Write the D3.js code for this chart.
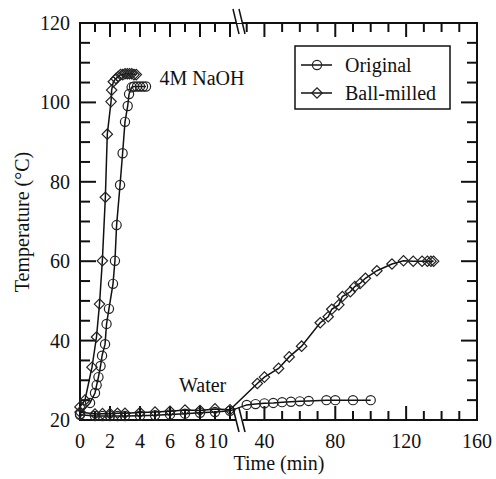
<!DOCTYPE html>
<html><head><meta charset="utf-8">
<script src="https://cdn.jsdelivr.net/npm/d3@7"></script>
<style>body{margin:0;background:#fff}svg{display:block}text{font-family:"Liberation Serif","Times New Roman",serif;fill:#111}</style>
</head><body>
<svg id="chart" width="496" height="479"></svg>
<script>
// ---- data ----
const naohOrigTime = [0, 0.67, 1.0, 1.11, 1.23, 1.37, 1.47, 1.67, 1.77, 1.93, 2.2, 2.33, 2.44, 2.67, 2.84, 3.0, 3.18, 3.27, 3.44, 3.6, 3.8, 4.0, 4.2, 4.4];
const naohOrigTemp = [21.5, 24.3, 26.8, 28.8, 30.8, 33.6, 36.2, 39.1, 44.2, 48, 54.3, 60.1, 69.1, 79.2, 87.2, 95.1, 99.1, 102.1, 103.8, 104, 104, 104, 104, 104];
const naohBallTime = [0, 0.33, 0.8, 1.1, 1.3, 1.49, 1.69, 1.82, 2.07, 2.11, 2.22, 2.4, 2.55, 2.7, 2.85, 3.0, 3.15, 3.3, 3.45, 3.6, 3.75];
const naohBallTemp = [23.3, 25, 33.3, 40.9, 49.2, 60.1, 76.1, 92, 100.2, 103.1, 105.2, 106, 106.5, 107, 107, 107.2, 107.2, 107.2, 107.2, 107, 107];
const waterOrigTime = [0, 1, 1.5, 2, 2.5, 3, 4, 5, 6, 7, 8, 9, 10, 30, 35, 40, 45, 50, 55, 60, 65, 75, 80, 90, 100];
const waterOrigTemp = [21.3, 21, 21, 21, 21, 21, 21.1, 21.2, 21.4, 21.6, 21.8, 22, 22.3, 23.8, 24, 24.2, 24.3, 24.5, 24.6, 24.7, 24.8, 25, 25, 25, 25];
const waterBallTime = [0, 1, 1.5, 2, 2.5, 3, 4, 5, 6, 7, 8, 9, 10, 36, 40, 48, 54, 61, 71.5, 76, 78, 82, 84, 88.5, 91, 94, 97, 103.5, 112, 118.5, 124, 129, 132, 134, 135.5];
const waterBallTemp = [22, 21.5, 21.6, 21.6, 21.7, 21.7, 21.9, 22, 22.2, 22.5, 22.4, 22.8, 22.6, 29.2, 30.8, 33, 35.9, 38.6, 44.5, 46, 47.9, 49, 51.1, 52.3, 53.6, 54.4, 55.7, 57.6, 59.3, 60.1, 60, 60, 60, 60, 60];
const yTicks = [20, 40, 60, 80, 100, 120];
const xTickLabelsLeft = [0, 2, 4, 6, 8, 10];
const xTickLabelsRight = [40, 80, 120, 160];
const seriesNames = ["Original", "Ball-milled"];
const annotations = [{text: "4M NaOH", t: 5.3, T: 104.5}, {text: "Water", t: 6.6, T: 27}];

// ---- layout ----
const svg = d3.select("#chart");
const L = 80, R = 477, T0 = 23, B = 420;
// broken axis: 0–10.5 min on the left, 26.5–160 min on the right
const x = d3.scaleLinear().domain([0, 10.5, 26.5, 160]).range([L, 237.5, 240.5, R]);
const y = d3.scaleLinear().domain([20, 120]).range([B, T0]);

const axisColor = "#111";
const g = svg.append("g");

// frame
g.append("rect").attr("x", L).attr("y", T0).attr("width", R - L).attr("height", B - T0)
  .attr("fill", "none").attr("stroke", axisColor).attr("stroke-width", 2);

// y ticks (every 5, major every 20)
const yMinor = d3.range(25, 120, 5);
yMinor.forEach(v => {
  const major = v % 20 === 0;
  const len = major ? 16 : 10;
  g.append("line").attr("x1", L).attr("x2", L + len).attr("y1", y(v)).attr("y2", y(v)).attr("stroke", axisColor).attr("stroke-width", 2);
  g.append("line").attr("x1", R).attr("x2", R - len).attr("y1", y(v)).attr("y2", y(v)).attr("stroke", axisColor).attr("stroke-width", 2);
});
yTicks.forEach(v => {
  g.append("text").attr("x", 70).attr("y", y(v)).attr("dy", "0.35em").attr("text-anchor", "end")
    .attr("font-size", 20).text(v);
});

// x ticks
const xLeftTicks = d3.range(1, 11, 1);
const xRightTicks = d3.range(30, 160, 10);
function xtick(v, major) {
  const len = major ? 14 : 9;
  g.append("line").attr("x1", x(v)).attr("x2", x(v)).attr("y1", B).attr("y2", B - len).attr("stroke", axisColor).attr("stroke-width", 2);
  g.append("line").attr("x1", x(v)).attr("x2", x(v)).attr("y1", T0).attr("y2", T0 + len).attr("stroke", axisColor).attr("stroke-width", 2);
}
xLeftTicks.forEach(v => xtick(v, v % 2 === 0));
xRightTicks.forEach(v => xtick(v, v % 40 === 0));
xTickLabelsLeft.forEach(v => {
  g.append("text").attr("x", x(v) + (v === 10 ? -12 : 0)).attr("y", 448).attr("text-anchor", "middle").attr("font-size", 20).text(v);
});
xTickLabelsRight.forEach(v => {
  g.append("text").attr("x", x(v)).attr("y", 448).attr("text-anchor", "middle").attr("font-size", 20).text(v);
});

// axis titles
g.append("text").attr("x", 279).attr("y", 470).attr("text-anchor", "middle").attr("font-size", 20).text("Time (min)");
g.append("text").attr("transform", "translate(29,222) rotate(-90)").attr("text-anchor", "middle").attr("font-size", 20).text("Temperature (°C)");

// data
function series(times, temps, marker) {
  const pts = times.map((t, i) => [t, temps[i]]);
  g.append("path").datum(pts)
    .attr("d", d3.line().x(d => x(d[0])).y(d => y(d[1])))
    .attr("fill", "none").attr("stroke", "#111").attr("stroke-width", 1.5);
  pts.forEach(d => drawMarkerIn(g, x(d[0]), y(d[1]), marker));
}
function drawMarkerIn(sel, cx, cy, marker) {
  if (marker === "circle") {
    sel.append("circle").attr("cx", cx).attr("cy", cy).attr("r", 4.6).attr("fill", "none").attr("stroke", "#222").attr("stroke-width", 1.2);
  } else {
    const s = 5.2;
    sel.append("path").attr("d", `M${cx - s},${cy}L${cx},${cy - s}L${cx + s},${cy}L${cx},${cy + s}Z`).attr("fill", "none").attr("stroke", "#222").attr("stroke-width", 1.2);
  }
}
series(naohOrigTime, naohOrigTemp, "circle");
series(naohBallTime, naohBallTemp, "diamond");
series(waterOrigTime, waterOrigTemp, "circle");
series(waterBallTime, waterBallTemp, "diamond");

// annotations
annotations.forEach(a => {
  g.append("text").attr("x", x(a.t)).attr("y", y(a.T)).attr("font-size", 20).text(a.text);
});

// axis break marks
function breakMarks(y1, y2) {
  g.append("line").attr("x1", 236).attr("x2", 243).attr("y1", (y1 + y2) / 2).attr("y2", (y1 + y2) / 2).attr("stroke", "#fff").attr("stroke-width", 3);
  [0, 6].forEach(o => {
    g.append("line").attr("x1", 233 + o).attr("y1", y1).attr("x2", 239 + o).attr("y2", y2)
      .attr("stroke", axisColor).attr("stroke-width", 1.5);
  });
}
breakMarks(9, 34);
breakMarks(408, 432);

// legend
const lg = g.append("g");
lg.append("rect").attr("x", 295).attr("y", 46).attr("width", 155).attr("height", 63)
  .attr("fill", "#fff").attr("stroke", axisColor).attr("stroke-width", 1.5);
const rowsY = [65, 93];
seriesNames.forEach((name, i) => {
  const ry = rowsY[i];
  lg.append("line").attr("x1", 301).attr("x2", 332).attr("y1", ry).attr("y2", ry).attr("stroke", "#111").attr("stroke-width", 1.5);
  drawMarkerIn(lg, 317, ry, i === 0 ? "circle" : "diamond");
  lg.append("text").attr("x", 345).attr("y", ry + 7).attr("font-size", 20).text(name);
});
</script>
</body></html>
